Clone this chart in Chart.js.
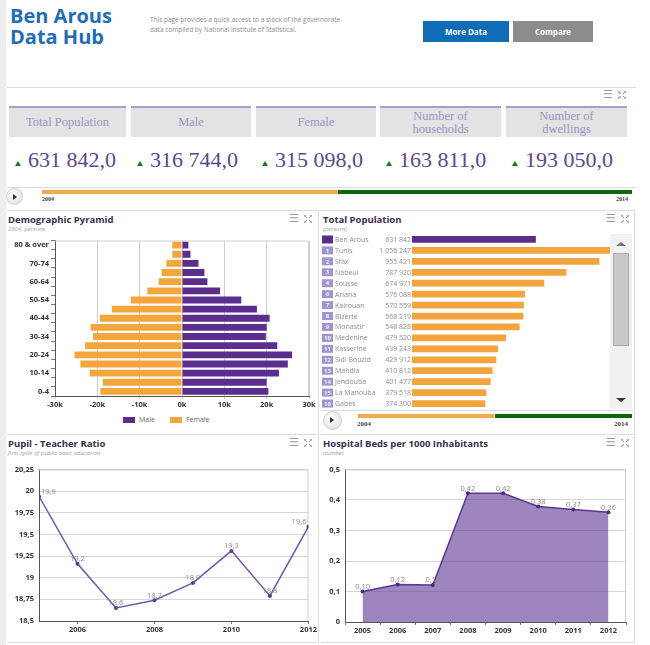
<!DOCTYPE html>
<html>
<head>
<meta charset="utf-8">
<script src="https://cdn.jsdelivr.net/npm/chart.js@4.4.1/dist/chart.umd.min.js"></script>
<style>
body { margin:0; width:650px; height:645px; position:relative; background:#fff; font-family:"Open Sans",sans-serif; overflow:hidden; }
.abs { position:absolute; }
.strip { left:0; top:0; width:6px; height:645px; background:#eeeeee; }
.brand { left:10px; top:5px; font-weight:700; font-size:20px; line-height:21px; color:#1f6db5; }
.desc { left:150px; top:15px; font-size:6.5px; line-height:9.5px; color:#8a8a8a; width:200px; }
.btn { top:21px; height:21px; line-height:21px; text-align:center; color:#fff; font-weight:700; font-size:8px; }
.hline { height:1px; background:#dcdcdc; }
.vline { width:1px; background:#dcdcdc; }
.tile { top:106px; height:29px; background:#e3e3e3; border-top:2px solid #a79dd0; color:#9d92c6; font-family:"Liberation Serif",serif; font-size:12.5px; text-align:center; display:flex; align-items:center; justify-content:center; line-height:13px; }
.kpi { top:147px; font-family:"Liberation Serif",serif; font-size:22px; color:#5e4592; white-space:nowrap; }
.kpi i { display:inline-block; width:0; height:0; border-left:3px solid transparent; border-right:3px solid transparent; border-bottom:5px solid #1b7a1b; margin-right:7px; vertical-align:1px; }
.bar { height:4px; }
.yr { font-family:"Liberation Serif",serif; font-weight:700; font-size:6px; color:#444; }
.play { width:15px; height:15px; border-radius:50%; background:radial-gradient(circle at 40% 35%, #ffffff, #dcdcdc); border:1px solid #d0d0d0; }
.play:after { content:""; position:absolute; left:6px; top:4.5px; border-top:3px solid transparent; border-bottom:3px solid transparent; border-left:4px solid #333; }
.ptitle { font-weight:700; font-size:9.5px; color:#35304a; white-space:nowrap; }
.psub { font-style:italic; font-size:6px; color:#a0a0a0; white-space:nowrap; }
.icons { font-size:11px; color:#9a9a9a; font-family:"DejaVu Sans",sans-serif; line-height:10px; }
.chartbox { position:absolute; }
.legend { font-size:7px; color:#666; display:flex; align-items:center; }
.legend span.sw { display:inline-block; width:12px; height:6px; margin-right:4px; }
.scroll { left:610px; top:234px; width:22px; height:175px; background:#f1f1f1; }
.thumb { left:613px; top:253px; width:16px; height:93px; background:#c9c9c9; border:1px solid #ababab; box-sizing:border-box; }
</style>
</head>
<body>
<div class="abs strip"></div>
<div class="abs brand">Ben Arous<br>Data Hub</div>
<div class="abs desc">This page provides a quick access to a stock of the governorate data compiled by National Institute of Statistical.</div>
<div class="abs btn" style="left:423px;width:86px;background:#0f6db8;">More Data</div>
<div class="abs btn" style="left:513px;width:80px;background:#8c8c8c;">Compare</div>
<div class="abs hline" style="left:7px;top:87px;width:629px;"></div>
<div id="kpis"></div>
<div class="abs hline" style="left:7px;top:187px;width:629px;"></div>
<div class="abs play" style="left:6px;top:188px;"></div>
<div class="abs bar" style="left:42px;top:190px;width:296px;background:#f5a94a;"></div>
<div class="abs bar" style="left:338px;top:190px;width:294px;background:#0b680d;"></div>
<div class="abs yr" style="left:42px;top:196px;">2004</div>
<div class="abs yr" style="left:616px;top:196px;">2014</div>

<!-- panel frames -->
<div class="abs hline" style="left:7px;top:210px;width:311px;"></div>
<div class="abs hline" style="left:321px;top:210px;width:314px;"></div>
<div class="abs vline" style="left:318px;top:210px;height:433px;"></div>
<div class="abs vline" style="left:634px;top:210px;height:433px;"></div>
<div class="abs hline" style="left:7px;top:434px;width:311px;"></div>
<div class="abs hline" style="left:321px;top:434px;width:314px;"></div>
<div class="abs hline" style="left:7px;top:642px;width:311px;"></div>
<div class="abs hline" style="left:321px;top:642px;width:314px;"></div>

<div class="abs ptitle" style="left:8px;top:213px;">Demographic Pyramid</div>
<div class="abs psub" style="left:8px;top:225px;">2004, persons</div>
<div class="abs ptitle" style="left:323px;top:213px;">Total Population</div>
<div class="abs psub" style="left:323px;top:225px;">(persons)</div>
<div class="abs ptitle" style="left:8px;top:437px;">Pupil - Teacher Ratio</div>
<div class="abs psub" style="left:8px;top:449px;">first cycle of public basic education</div>
<div class="abs ptitle" style="left:323px;top:437px;">Hospital Beds per 1000 Inhabitants</div>
<div class="abs psub" style="left:323px;top:449px;">number</div>
<div id="iconHolder"></div>

<div class="chartbox" style="left:7px;top:234px;width:311px;height:177px;"><canvas id="pyramid"></canvas></div>
<div class="abs legend" style="left:123px;top:415px;"><span class="sw" style="background:#5b2d8e"></span>Male<span class="sw" style="background:#f4a63d;margin-left:15px"></span>Female</div>

<div class="chartbox" style="left:320px;top:234px;width:290px;height:175px;"><canvas id="totalPop"></canvas></div>
<div class="abs scroll"></div>
<div class="abs thumb"></div>
<div class="abs" style="left:616px;top:242px;border-left:5px solid transparent;border-right:5px solid transparent;border-bottom:4px solid #777;"></div>
<div class="abs" style="left:616px;top:398px;border-left:5px solid transparent;border-right:5px solid transparent;border-top:4px solid #333;"></div>
<div class="abs hline" style="left:321px;top:410px;width:312px;"></div>
<div class="abs play" style="left:323px;top:411px;width:17px;height:17px;"></div>
<div class="abs bar" style="left:358px;top:414px;width:136px;background:#f5a94a;"></div>
<div class="abs bar" style="left:495px;top:414px;width:137px;background:#0b680d;"></div>
<div class="abs yr" style="left:357px;top:420px;font-size:7px;">2004</div>
<div class="abs yr" style="left:614px;top:420px;font-size:7px;">2014</div>

<div class="chartbox" style="left:7px;top:460px;width:311px;height:175px;"><canvas id="pupil"></canvas></div>
<div class="chartbox" style="left:320px;top:460px;width:316px;height:176px;"><canvas id="beds"></canvas></div>

<script>
// KPI strip
const kpiLabels = [['Total Population'], ['Male'], ['Female'], ['Number of', 'households'], ['Number of', 'dwellings']];
const kpiValues = [631842, 316744, 315098, 163811, 193050];

// Demographic pyramid, 2004
const ageGroups = ['80 & over', '75-79', '70-74', '65-69', '60-64', '55-59', '50-54', '45-49', '40-44',
    '35-39', '30-34', '25-29', '20-24', '15-19', '10-14', '5-9', '0-4'];
const pyramidMale = [1500, 2000, 3900, 5300, 6000, 9000, 14000, 17700, 20700, 20000, 19800, 22500, 26000, 25000, 22900, 20000, 20400];
const pyramidFemale = [2300, 2300, 3700, 4800, 5500, 8200, 12100, 16600, 19400, 21600, 21000, 22900, 25400, 24000, 21800, 18700, 19300];

// Total population by governorate
const governorates = ['Ben Arous', 'Tunis', 'Sfax', 'Nabeul', 'Sousse', 'Ariana', 'Kairouan', 'Bizerte', 'Monastir',
    'Medenine', 'Kasserine', 'Sidi Bouzid', 'Mahdia', 'Jendouba', 'La Manouba', 'Gabès'];
const govRanks = [5, 1, 2, 3, 4, 6, 7, 8, 9, 10, 11, 12, 13, 14, 15, 16];
const govPopulation = [631842, 1056247, 955421, 787920, 674971, 576088, 570559, 568219, 548828,
    479520, 439243, 429912, 410812, 401477, 379518, 374300];

// Pupil - teacher ratio
const pupilYears = [2005, 2006, 2007, 2008, 2009, 2010, 2011, 2012];
const pupilRatio = [19.94, 19.16, 18.65, 18.74, 18.94, 19.31, 18.79, 19.59];
const pupilTicks = [2006, 2008, 2010, 2012];

// Hospital beds per 1000 inhabitants
const bedYears = ['2005', '2006', '2007', '2008', '2009', '2010', '2011', '2012'];
const bedsPer1000 = [0.10, 0.123, 0.121, 0.422, 0.422, 0.379, 0.369, 0.36];

const PURPLE = '#5b2d8e';
const ORANGE = '#f4a63d';
const AXIS_FONT = { family: 'Open Sans', size: 7.5, weight: 'bold' };

const spaced = n => String(n).replace(/\B(?=(\d{3})+(?!\d))/g, ' ');
const comma = s => String(s).replace('.', ',');

// KPI tiles
const tileX = [9, 131, 256, 380, 506];
const tileW = [117, 120, 120, 121, 121];
let kpiHtml = '';
kpiLabels.forEach((lines, i) => {
    kpiHtml += `<div class="abs tile" style="left:${tileX[i]}px;width:${tileW[i]}px;"><div>${lines.join('<br>')}</div></div>`;
    kpiHtml += `<div class="abs kpi" style="left:${tileX[i] + 6}px;"><i></i>${spaced(kpiValues[i])},0</div>`;
});
document.getElementById('kpis').innerHTML = kpiHtml;

// menu / expand icons
const iconSvg = '<svg width="8" height="8" viewBox="0 0 8 8" style="margin-left:5px"><path d="M0 0L3 3M0 0h2.5M0 0v2.5M8 0L5 3M8 0h-2.5M8 0v2.5M0 8L3 5M0 8h2.5M0 8v-2.5M8 8L5 5M8 8h-2.5M8 8v-2.5" stroke="#999" stroke-width="1" fill="none"/></svg>';
const iconSpots = [[603, 90], [289, 214], [606, 214], [289, 438], [606, 438]];
document.getElementById('iconHolder').innerHTML = iconSpots
    .map(p => `<div class="abs icons" style="left:${p[0]}px;top:${p[1]}px;display:flex;align-items:center;">&#9776;${iconSvg}</div>`)
    .join('');

// light border on top and right of the plot area
const plotBorder = {
    id: 'plotBorder',
    beforeDatasetsDraw(chart) {
        const a = chart.chartArea, ctx = chart.ctx;
        ctx.save();
        ctx.strokeStyle = '#cfcfcf';
        ctx.lineWidth = 1;
        ctx.beginPath();
        ctx.moveTo(a.left, a.top + 0.5);
        ctx.lineTo(a.right - 0.5, a.top + 0.5);
        ctx.lineTo(a.right - 0.5, a.bottom);
        ctx.stroke();
        ctx.restore();
    }
};

// value labels above line points
const pointLabels = {
    id: 'pointLabels',
    afterDatasetsDraw(chart, args, opts) {
        const ctx = chart.ctx, a = chart.chartArea;
        const meta = chart.getDatasetMeta(0);
        const values = chart.data.datasets[0].data;
        ctx.save();
        ctx.font = '7.5px "Open Sans"';
        ctx.fillStyle = '#8a8a8a';
        ctx.textAlign = 'center';
        ctx.textBaseline = 'bottom';
        meta.data.forEach((pt, i) => {
            const v = typeof values[i] === 'object' ? values[i].y : values[i];
            const txt = comma(v.toFixed(opts.digits));
            const w = ctx.measureText(txt).width;
            let x = Math.max(pt.x, a.left + w / 2 + 2);
            x = Math.min(x, a.right - w / 2 - 2);
            ctx.fillText(txt, x, pt.y - 1);
        });
        ctx.restore();
    }
};

// rank box, name and value at the left of each governorate row
const govLabels = {
    id: 'govLabels',
    afterDraw(chart) {
        const ctx = chart.ctx, y = chart.scales.y;
        ctx.save();
        ctx.textBaseline = 'middle';
        governorates.forEach((name, i) => {
            const cy = y.getPixelForValue(i);
            ctx.fillStyle = i === 0 ? '#5a2d8c' : '#a093cf';
            ctx.fillRect(2, cy - 4, 11, 8);
            ctx.font = 'bold 6px "Open Sans"';
            ctx.textAlign = 'center';
            ctx.fillStyle = i === 0 ? '#4e2680' : '#f4f2fb';
            ctx.fillText(govRanks[i], 7.5, cy + 0.5);
            ctx.font = '7px "Open Sans"';
            ctx.fillStyle = '#8c8c8c';
            ctx.textAlign = 'left';
            ctx.fillText(name, 15, cy + 0.5);
            ctx.textAlign = 'right';
            ctx.fillText(spaced(govPopulation[i]), 91, cy + 0.5);
        });
        ctx.restore();
    }
};

Chart.defaults.animation = false;
Chart.defaults.responsive = true;
Chart.defaults.maintainAspectRatio = false;
Chart.defaults.devicePixelRatio = 1;
Chart.defaults.color = '#333';

new Chart(document.getElementById('pyramid'), {
    type: 'bar',
    data: {
        labels: ageGroups,
        datasets: [
            { label: 'Male', data: pyramidMale, backgroundColor: PURPLE, barPercentage: 0.75, categoryPercentage: 1 },
            { label: 'Female', data: pyramidFemale.map(v => -v), backgroundColor: ORANGE, barPercentage: 0.75, categoryPercentage: 1 }
        ]
    },
    plugins: [plotBorder],
    options: {
        indexAxis: 'y',
        layout: { padding: { top: 5, right: 9, left: 0, bottom: 0 } },
        plugins: { legend: { display: false }, tooltip: { enabled: false } },
        scales: {
            x: {
                stacked: true, min: -30000, max: 30000,
                afterFit: s => { s.height = 15; },
                ticks: { stepSize: 10000, font: AXIS_FONT, padding: 1, callback: v => (v / 1000) + 'k' },
                grid: { color: '#cfcfcf', tickLength: 3 },
                border: { color: '#555' }
            },
            y: {
                stacked: true,
                afterFit: s => { s.width = 48; },
                ticks: { font: AXIS_FONT, padding: 2, autoSkip: false, callback: (v, i) => i % 2 === 0 ? ageGroups[i] : '' },
                grid: { drawOnChartArea: false, tickLength: 4, color: '#777' },
                border: { color: '#555' }
            }
        }
    }
});

new Chart(document.getElementById('totalPop'), {
    type: 'bar',
    data: {
        labels: governorates,
        datasets: [{
            data: govPopulation,
            backgroundColor: governorates.map((g, i) => i === 0 ? '#5a2d8c' : '#f2a43e'),
            barPercentage: 0.62, categoryPercentage: 1
        }]
    },
    plugins: [govLabels],
    options: {
        indexAxis: 'y',
        layout: { padding: { left: 92, right: 0, top: 0, bottom: 0 } },
        plugins: { legend: { display: false }, tooltip: { enabled: false } },
        scales: {
            x: { display: false, min: 0, max: 1010000 },
            y: { display: false }
        }
    }
});

new Chart(document.getElementById('pupil'), {
    type: 'line',
    data: {
        datasets: [{
            data: pupilYears.map((yr, i) => ({ x: yr, y: pupilRatio[i] })),
            borderColor: '#7456aa', borderWidth: 1.5,
            pointRadius: 2, pointBackgroundColor: '#5b3a92', pointBorderWidth: 0,
            tension: 0
        }]
    },
    plugins: [plotBorder, pointLabels],
    options: {
        layout: { padding: { top: 5, right: 8, left: 0, bottom: 0 } },
        plugins: { legend: { display: false }, tooltip: { enabled: false }, pointLabels: { digits: 1 } },
        scales: {
            x: {
                type: 'linear', min: 2005, max: 2012,
                afterFit: s => { s.height = 14; },
                afterBuildTicks: s => { s.ticks = pupilTicks.map(v => ({ value: v })); },
                ticks: { font: AXIS_FONT, padding: 1, callback: v => String(v) },
                grid: { drawOnChartArea: false, tickLength: 3, color: '#777' },
                border: { color: '#555' }
            },
            y: {
                min: 18.5, max: 20.25,
                afterFit: s => { s.width = 32; },
                ticks: { stepSize: 0.25, font: AXIS_FONT, padding: 5, callback: v => comma(+v.toFixed(2)) },
                grid: { color: '#d6d6d6', drawTicks: false },
                border: { color: '#555' }
            }
        }
    }
});

new Chart(document.getElementById('beds'), {
    type: 'line',
    data: {
        labels: bedYears,
        datasets: [{
            data: bedsPer1000,
            borderColor: '#5c3592', borderWidth: 1.5,
            backgroundColor: 'rgba(92,53,146,0.6)', fill: 'origin',
            pointRadius: 2, pointBackgroundColor: '#4e2a82', pointBorderWidth: 0,
            tension: 0
        }]
    },
    plugins: [plotBorder, pointLabels],
    options: {
        layout: { padding: { top: 5, right: 10, left: 0, bottom: 0 } },
        plugins: { legend: { display: false }, tooltip: { enabled: false }, pointLabels: { digits: 2 } },
        scales: {
            x: {
                offset: true,
                afterFit: s => { s.height = 14; },
                ticks: { font: AXIS_FONT, padding: 1 },
                grid: { offset: true, drawOnChartArea: false, tickLength: 3, color: '#777' },
                border: { color: '#555' }
            },
            y: {
                min: 0, max: 0.5,
                afterFit: s => { s.width = 25; },
                ticks: { stepSize: 0.1, font: AXIS_FONT, padding: 5, callback: v => v === 0 ? '0' : comma(v.toFixed(1)) },
                grid: { color: '#d6d6d6', drawTicks: false },
                border: { color: '#555' }
            }
        }
    }
});
</script>
</body>
</html>
